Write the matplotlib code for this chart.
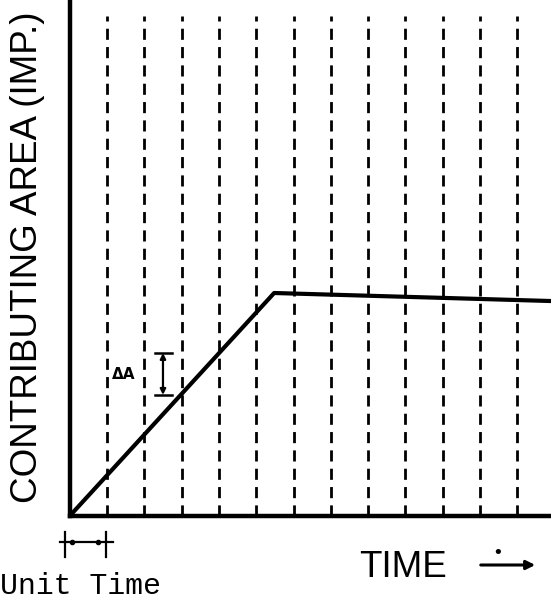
import numpy as np
import matplotlib.pyplot as plt

# axe du temps en pas de temps unitaires, aire contributive normalisee
unit_times = [1, 2, 3, 4, 5, 6, 7, 8, 9, 10, 11, 12]
time = [0.0, 5.48, 12.9]
area = [0.0, 1.0, 0.964]

W, H = 551, 604
fig = plt.figure(figsize=(W / 100, H / 100), dpi=100)
ax = fig.add_axes([69.7 / W, (H - 516) / H, (W - 69.7) / W, 516 / H])

def px(x, y):
    return (x / W, 1 - y / H)

ax.set_xlim(0, 12.9)
ax.set_ylim(0, 516 / 223)
for s in ['top', 'right']:
    ax.spines[s].set_visible(False)
for s in ['left', 'bottom']:
    ax.spines[s].set_linewidth(3.2)
ax.set_xticks([])
ax.set_yticks([])

ax.vlines(unit_times, 0, 2.24, colors='black', linewidth=2.0, linestyles=(0, (4, 2.6)))
ax.plot(time, area, color='black', linewidth=3.0, solid_capstyle='round')

# delta A
ax.annotate('', xy=(2.5, 0.731), xytext=(2.5, 0.543),
            arrowprops=dict(arrowstyle='<|-|>', color='black', lw=1.6, mutation_scale=8,
                            shrinkA=0, shrinkB=0))
ax.plot([2.29, 2.74], [0.731, 0.731], color='black', lw=1.8)
ax.plot([2.29, 2.74], [0.543, 0.543], color='black', lw=1.8)
fig.text(*px(112, 379), '\u0394A', fontsize=11, fontweight='bold', ha='left', va='baseline')

# pas de temps unitaire
ax.plot([-0.26, 1.17], [-0.117, -0.117], color='black', lw=1.6, clip_on=False)
ax.plot([-0.12, -0.12], [-0.072, -0.184], color='black', lw=1.6, clip_on=False)
ax.plot([0.98, 0.98], [-0.072, -0.184], color='black', lw=1.6, clip_on=False)
ax.plot([0.05, 0.75], [-0.117, -0.117], 'o', color='black', ms=3, clip_on=False)

fam = ['Liberation Sans Narrow', 'Liberation Sans', 'DejaVu Sans']
fig.text(*px(37, 257), 'CONTRIBUTING AREA (IMP.)', rotation=90, rotation_mode='anchor',
         ha='center', va='baseline', fontsize=26.5, fontweight='medium', family=fam)
fig.text(*px(403, 577), 'TIME', ha='center', va='baseline', fontsize=26.5,
         fontweight='medium', family=fam)
fig.text(*px(0, 594), 'Unit Time', ha='left', va='baseline', fontsize=21.5,
         family=['Liberation Mono', 'DejaVu Sans Mono'])

fig.patches.append(plt.matplotlib.patches.FancyArrowPatch(
    px(478, 565), px(538, 565), transform=fig.transFigure, arrowstyle='-|>',
    mutation_scale=13, lw=2.2, color='black'))
fig.text(*px(498, 553), '\u2022', ha='center', va='center', fontsize=13)

fig.savefig('out.png', dpi=100)
